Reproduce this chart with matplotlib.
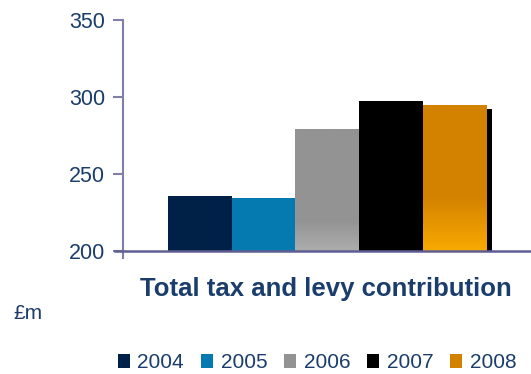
import matplotlib
matplotlib.use("Agg")
import matplotlib.pyplot as plt
import matplotlib.transforms as mtransforms
from matplotlib.colors import LinearSegmentedColormap
from matplotlib.patches import Patch, Rectangle
import numpy as np

plt.rcParams['font.family'] = ['Liberation Sans', 'DejaVu Sans']

years = ['2004', '2005', '2006', '2007', '2008']
values = [235.4, 234.1, 279.4, 297.5, 294.9]
colors = ['#002147', '#047ab1', '#939393', '#000000', '#d38200']
# bar index -> (bottom colour, fraction of bar height where gradient ends)
gradients = {2: ('#adadad', 0.25), 4: ('#f9aa00', 0.37)}
title = 'Total tax and levy contribution'
unit = '£m'
yticks = [200, 250, 300, 350]

text_col = '#1a3d6b'
axis_col = '#7f7faa'

fig = plt.figure(figsize=(5.31, 3.74), dpi=100)
ax = fig.add_axes([0.231, 0.311, 0.769, 0.6343])
base = 200
x = np.arange(len(years))

ax.set_xlim(-1.215, 5.2)
ax.set_ylim(195.5, 350)

# shadow behind the last bar
shadow_tr = mtransforms.offset_copy(ax.transData, fig=fig, x=6, y=-4, units='dots')
sh = ax.bar(x[-1], values[-1] - base, bottom=base, width=1.0, color='#000000',
            transform=shadow_tr, zorder=1)
clip_rect = Rectangle((-1.215, base), 6.5, 150, transform=ax.transData)
for p in sh:
    p.set_clip_path(clip_rect)

bars = ax.bar(x, np.array(values) - base, bottom=base, width=1.0, color=colors, zorder=2)

# gradients on lower parts
for i, (bcol, frac) in gradients.items():
    b = bars[i]
    cmap = LinearSegmentedColormap.from_list('g', [(0, bcol), (frac, colors[i]), (1, colors[i])])
    grad = np.linspace(0, 1, 256).reshape(-1, 1)
    im = ax.imshow(grad, cmap=cmap, aspect='auto', origin='lower',
                   extent=[x[i] - 0.5, x[i] + 0.5, base, values[i]], zorder=3)
    im.set_clip_path(b)

ax.set_xlim(-1.215, 5.2)
ax.set_ylim(195.5, 350)
ax.set_yticks(yticks)
ax.set_yticklabels([str(t) for t in yticks], fontsize=15.5, color=text_col)
ax.set_xticks([])
for s in ['top', 'right', 'bottom']:
    ax.spines[s].set_visible(False)
ax.spines['left'].set_color(axis_col)
ax.spines['left'].set_linewidth(1.5)
ax.spines['left'].set_bounds(195.5, 350)
ax.tick_params(axis='y', length=7, width=1.5, color=axis_col, pad=5.5)
ax.axhline(base, xmin=-0.018, xmax=1, color='#5f5f92', linewidth=1.8, clip_on=False, zorder=4)

fig.text(0.614, 0.227, title, fontsize=18.5, fontweight='bold', color=text_col,
         ha='center', va='center')
fig.text(0.026, 0.163, unit, fontsize=15, color=text_col, ha='left', va='center')

handles = [Patch(facecolor=c, edgecolor='none') for c in colors]
leg = fig.legend(handles, years, loc='center', bbox_to_anchor=(0.597, 0.03), ncol=5,
                 frameon=False, fontsize=15, handlelength=0.6, handleheight=0.6,
                 handletextpad=0.35, columnspacing=0.8, borderpad=0)
for t in leg.get_texts():
    t.set_color(text_col)

fig.savefig('out.png', dpi=100)
